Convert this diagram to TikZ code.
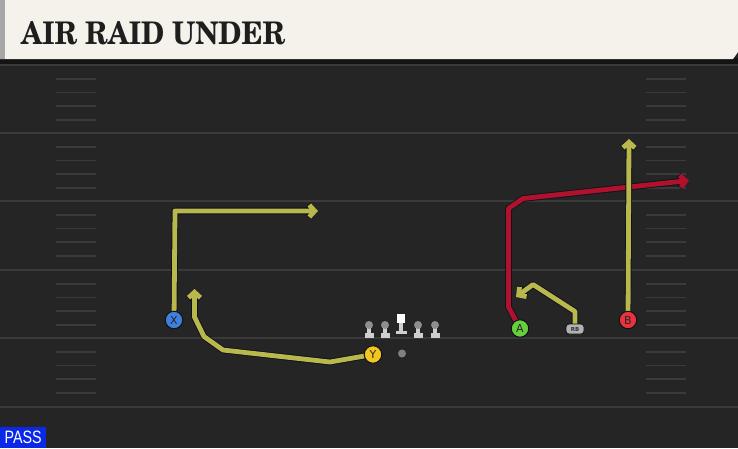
\documentclass[tikz,border=0pt]{standalone}
\usepackage{fontspec}
\setmainfont{DejaVu Sans}
\newfontfamily\titlefont{texgyreschola-bold.otf}
\newfontfamily\passfont{Liberation Sans}
\usetikzlibrary{arrows.meta}
\pgfdeclarelayer{back}
\pgfdeclarelayer{bg}
\pgfsetlayers{back,bg,main}
\definecolor{fieldbg}{HTML}{252525}
\definecolor{headbg}{HTML}{F4F2EB}
\definecolor{yardline}{HTML}{3A3A3A}
\definecolor{hashc}{HTML}{3A3A3A}
\definecolor{routey}{HTML}{B8B84C}
\definecolor{router}{HTML}{B0122E}
\definecolor{outlc}{HTML}{10121A}
\definecolor{xblue}{HTML}{3F80DA}
\definecolor{yyellow}{HTML}{F2C520}
\definecolor{agreen}{HTML}{66D03C}
\definecolor{bred}{HTML}{E8323E}
\definecolor{passblue}{HTML}{0A28E6}
\definecolor{linelight}{HTML}{CFCFCF}
\definecolor{linehead}{HTML}{8E8E8E}
\definecolor{titlec}{HTML}{1E1E1E}
\tikzset{
  yard/.style={draw=yardline, line width=1.8pt},
  hash/.style={draw=hashc, line width=1.6pt},
  player/.style={circle, minimum size=17.5pt, inner sep=0pt, line width=1pt,
    draw=outlc, fill=#1, text=black!85, font=\fontsize{11}{11}\selectfont},
  outl/.style={draw=outlc, line width=6.6pt, line join=round,
    -{Straight Barb[length=5.5pt,width=12pt]}},
  rte/.style={draw=#1, line width=4.8pt, line join=round,
    -{Straight Barb[length=5.5pt,width=12pt]}},
  lbase/.style={fill=linelight},
  lhead/.style={fill=linehead}
}
\newcommand\playroute[2]{\draw[outl] #2; \draw[rte=#1] #2;}
\begin{document}
\begin{tikzpicture}[x=1pt,y=-1pt]
\useasboundingbox (0,0) rectangle (738,448);
\begin{pgfonlayer}{back}
\fill[fieldbg] (0,0) rectangle (738,448);
% yard lines
\foreach \yy in {65,133,201,270,338,407}{
  \draw[yard] (0,\yy) -- (738,\yy);
}
% hash marks
\foreach \yy in {65,133,201,270,338}{
  \foreach \k in {1,2,3,4}{
    \draw[hash] (56,\yy+\k*13.7) -- (96,\yy+\k*13.7);
    \draw[hash] (646,\yy+\k*13.7) -- (686,\yy+\k*13.7);
  }
}
\end{pgfonlayer}
% header
\fill[black!92] (0,58) rectangle (738,64);
\fill[headbg] (0,0) -- (738,0) -- (738,52) -- (733,59) -- (0,59) -- cycle;
\fill[black!35] (0,0) rectangle (5,59);
\node[anchor=base west, inner sep=0pt, text=titlec] (title) at (21,44)
  {\resizebox{264pt}{23pt}{\titlefont AIR RAID UNDER}};
% linemen
\foreach \lx in {369,385,418,435}{
  \fill[lbase] (\lx-4.5,333) rectangle (\lx+4.5,337.5);
  \fill[lbase] (\lx-1.6,327) rectangle (\lx+1.6,334);
  \fill[lhead] (\lx,325) circle (4);
}
\fill[lbase] (395.5,330.5) rectangle (406.5,333.5);
\fill[lbase] (399.3,322) rectangle (403.3,331);
\fill[white] (397,313.5) rectangle (405,322.5);
% ball
\node[circle, fill=black!50, minimum size=8pt, inner sep=0pt] (ball) at (402,353.5) {};
% players
\node[player=xblue] (X) at (174,320) {X};
\node[player=yyellow] (Y) at (373,354.5) {Y};
\node[player=agreen] (A) at (520,328.5) {A};
\node[player=bred] (B) at (628,320) {B};
\node[rounded corners=3pt, fill=black!30, draw=outlc, line width=0.8pt, minimum width=18pt,
  minimum height=10pt, inner sep=0pt, text=black!80, font=\fontsize{5.5}{5.5}\selectfont\bfseries]
  (RB) at (575,329) {RB};
% route end points
\coordinate (Xend) at (318,211);
\coordinate (Yend) at (194.5,289);
\coordinate (RBend) at (516,297);
\coordinate (Aend) at (689,180.5);
\coordinate (Bend) at (629,139);
\begin{pgfonlayer}{bg}
\playroute{routey}{(X.center) -- (175,211) -- (Xend)}
\playroute{routey}{(Y.center) -- (330,362) -- (223,350) -- (204,336.5) -- (194.5,317) -- (Yend)}
\playroute{routey}{(RB.center) -- (575,311.5) -- (533,284.5) -- (RBend)}
\playroute{router}{(A.center) -- (508.5,307) -- (508.5,208.5) -- (523,198.5) -- (Aend)}
\playroute{routey}{(B.center) -- (Bend)}
\end{pgfonlayer}
% pass label
\node[fill=passblue, text=white, anchor=south west, minimum width=46pt, minimum height=20.5pt,
  inner sep=0pt] (pass) at (0,448) {\resizebox{37pt}{12.5pt}{\passfont PASS}};
\end{tikzpicture}
\end{document}
